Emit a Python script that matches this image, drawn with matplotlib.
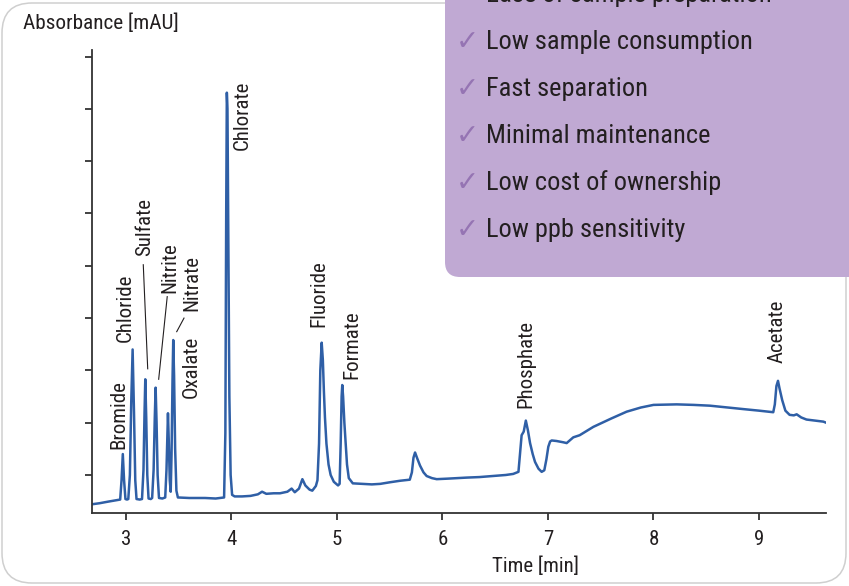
import matplotlib
matplotlib.use('Agg')
import matplotlib.pyplot as plt
from matplotlib.patches import FancyBboxPatch

# --- Data ---
time_min = [2.678, 2.75, 2.83, 2.92, 2.945,
            2.958, 2.970, 2.982, 2.995, 3.01,
            3.022, 3.037, 3.050, 3.063, 3.076, 3.088, 3.100, 3.13, 3.152,
            3.166, 3.176, 3.183, 3.192, 3.202, 3.214, 3.235, 3.248,
            3.262, 3.273, 3.281, 3.290, 3.300, 3.313, 3.345, 3.372,
            3.384, 3.393, 3.398, 3.405, 3.415, 3.424,
            3.432, 3.441, 3.448, 3.456, 3.466, 3.478, 3.492,
            3.6, 3.75, 3.85, 3.93,
            3.942, 3.950, 3.956, 3.962, 3.970, 3.980, 3.992, 4.006, 4.03,
            4.10, 4.18, 4.25, 4.29, 4.33, 4.40, 4.46, 4.53, 4.57, 4.60, 4.64, 4.672, 4.70, 4.74, 4.766, 4.80, 4.815,
            4.83, 4.842, 4.855, 4.866, 4.876, 4.886, 4.90, 4.92, 4.94, 4.97, 5.01, 5.025,
            5.035, 5.044, 5.050, 5.058, 5.07, 5.082, 5.095, 5.112, 5.15,
            5.25, 5.33, 5.41, 5.50, 5.60, 5.69,
            5.71, 5.725, 5.74, 5.76, 5.787, 5.82, 5.85, 5.90, 5.945,
            6.05, 6.23, 6.35, 6.48, 6.60, 6.67, 6.72,
            6.735, 6.75, 6.77, 6.79, 6.81, 6.83, 6.855, 6.877, 6.91, 6.94, 6.965, 6.985, 7.003, 7.02, 7.035,
            7.08, 7.145, 7.177, 7.24, 7.30, 7.43, 7.60, 7.745, 7.88, 8.0, 8.22, 8.38, 8.535, 8.70, 8.85, 9.0, 9.135,
            9.150, 9.165, 9.18, 9.195, 9.22, 9.25, 9.29, 9.33, 9.357, 9.40, 9.45, 9.53, 9.61, 9.635]

absorbance_mau = [4.4, 4.6, 4.9, 5.2, 5.3,
                  9.0, 14.0, 9.0, 5.4, 5.3,
                  5.4, 10.0, 24.0, 34.0, 22.0, 9.0, 5.4, 5.3, 5.4,
                  11.0, 22.0, 28.3, 21.0, 10.0, 5.5, 5.4, 5.6,
                  11.0, 21.0, 26.7, 20.0, 10.0, 5.6, 5.5, 5.7,
                  11.0, 18.5, 21.8, 17.0, 9.0, 6.8,
                  14.0, 28.0, 35.8, 29.0, 15.0, 7.0, 5.7,
                  5.6, 5.6, 5.5, 5.7,
                  18.0, 60.0, 83.1, 80.0, 55.0, 25.0, 10.0, 6.2, 5.9,
                  5.9, 6.0, 6.3, 6.8, 6.4, 6.5, 6.5, 6.8, 7.4, 6.7, 7.4, 9.2, 8.0, 7.2, 7.0, 7.9, 9.0,
                  16.0, 30.0, 35.3, 32.0, 26.0, 21.0, 16.0, 12.0, 10.0, 8.7, 8.0, 8.3,
                  16.0, 25.0, 27.2, 25.0, 20.0, 16.0, 12.0, 9.4, 8.4,
                  8.3, 8.2, 8.3, 8.6, 8.9, 9.1,
                  10.5, 13.3, 14.3, 13.2, 11.8, 10.5, 9.8, 9.4, 9.2,
                  9.3, 9.5, 9.6, 9.8, 10.0, 10.2, 10.6,
                  14.0, 17.6, 18.3, 20.4, 18.5, 16.1, 14.0, 12.5, 11.2, 10.6, 10.9, 13.0, 15.4, 16.4, 16.6,
                  16.5, 16.25, 16.1, 17.2, 17.6, 19.2, 20.8, 22.1, 22.9, 23.4, 23.5, 23.4, 23.25, 22.9, 22.6, 22.3, 22.0,
                  23.5, 27.0, 28.0, 26.5, 24.3, 22.3, 21.5, 21.4, 21.6, 21.0, 20.6, 20.4, 20.2, 20.0]

# peak labels: name, label x (min), label bottom (mAU)
peak_names = ['Bromide', 'Chloride', 'Sulfate', 'Nitrite', 'Nitrate', 'Oxalate',
              'Chlorate', 'Fluoride', 'Formate', 'Phosphate', 'Acetate']
label_time = [2.934, 2.993, 3.173, 3.417, 3.623, 3.619, 4.104, 4.827, 5.139, 6.789, 9.168]
label_level = [15.0, 35.5, 51.9, 44.8, 41.4, 24.7, 72.1, 38.3, 28.4, 22.8, 31.4]

# leader lines for the crowded labels (Sulfate, Nitrite, Nitrate)
leader_t = [(3.164, 3.206), (3.391, 3.310), (3.550, 3.481)]
leader_v = [(50.2, 30.3), (44.1, 28.3), (40.0, 37.4)]

x_ticks = [3, 4, 5, 6, 7, 8, 9]
y_ticks = [10, 20, 30, 40, 50, 60, 70, 80, 90]

benefits = ['Ease of sample preparation', 'Low sample consumption', 'Fast separation',
            'Minimal maintenance', 'Low cost of ownership', 'Low ppb sensitivity']

# --- Style ---
plt.rcParams['font.family'] = ['Roboto Condensed', 'DejaVu Sans']
line_color = '#2F5FA6'
text_color = '#231F20'
axis_color = '#333333'

fig = plt.figure(figsize=(8.49, 5.86), dpi=100)
ax = fig.add_axes([92 / 849, 1 - 513 / 586, 734 / 849, 463 / 586])

# outer rounded frame
frame = FancyBboxPatch((0.02, 0.03), 8.44, 5.80, boxstyle='round,pad=0,rounding_size=0.3',
                       transform=fig.dpi_scale_trans, facecolor='none', edgecolor='#CFCFCF',
                       linewidth=1.1, zorder=0)
fig.patches.append(frame)

# --- Plot ---
ax.plot(time_min, absorbance_mau, color=line_color, linewidth=1.8, solid_joinstyle='round')

for name, t, v in zip(peak_names, label_time, label_level):
    ax.text(t, v, name, rotation=90, ha='center', va='bottom', fontsize=15, color=text_color)

for lt, lv in zip(leader_t, leader_v):
    ax.plot(lt, lv, color=text_color, linewidth=0.8)

ax.set_xlim(2.678, 9.635)
ax.set_ylim(2.73, 91.26)
ax.set_xticks(x_ticks)
ax.set_yticks(y_ticks)
ax.set_yticklabels([])
ax.tick_params(axis='x', direction='out', length=5, width=1.3, colors=axis_color,
               labelsize=15, labelcolor=text_color, pad=7)
ax.tick_params(axis='y', direction='out', length=5, width=1.3, colors=axis_color)
for side in ['top', 'right']:
    ax.spines[side].set_visible(False)
for side in ['left', 'bottom']:
    ax.spines[side].set_color(axis_color)
    ax.spines[side].set_linewidth(1.3)

ax.set_xlabel('Time [min]', fontsize=15, color=text_color)
ax.xaxis.set_label_coords((535 - 92) / 734, -0.093)
fig.text(23 / 849, 1 - 14 / 586, 'Absorbance [mAU]', ha='left', va='top', fontsize=15.3, color=text_color)

# --- Purple benefits box ---
box = FancyBboxPatch((4.45, 3.09), 5.0, 4.0, boxstyle='round,pad=0,rounding_size=0.15',
                     transform=fig.dpi_scale_trans, facecolor='#C0A9D3', edgecolor='none', zorder=1)
fig.patches.append(box)
for i, item in enumerate(benefits):
    y = 1 - (-5 + 47 * i) / 586
    fig.text(456 / 849, y, '\u2713', ha='left', va='center', fontsize=20,
             family=['DejaVu Sans'], color='#9574B3', zorder=2)
    fig.text(486 / 849, y, item, ha='left', va='center', fontsize=19, color=text_color, zorder=2)

fig.savefig('out.png', dpi=100)
